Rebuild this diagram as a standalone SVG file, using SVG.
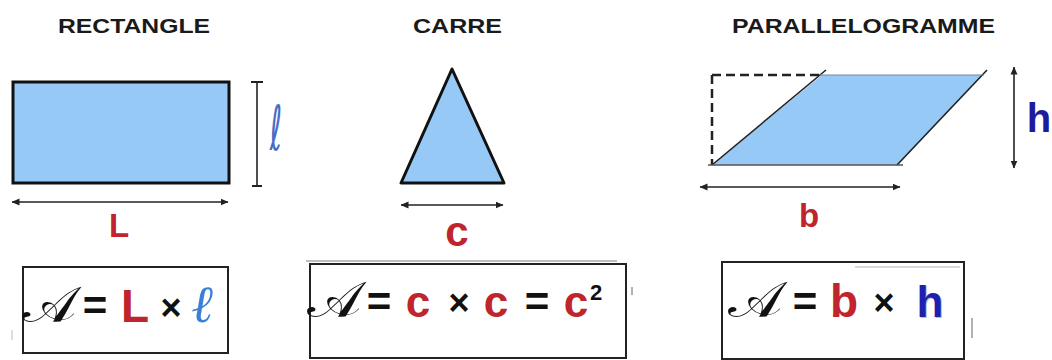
<svg xmlns="http://www.w3.org/2000/svg" width="1052" height="360" viewBox="0 0 1052 360">
<style>
.title{font-family:"Liberation Sans",Arial,sans-serif;font-weight:bold;font-size:21px;fill:#1a1a1a;text-anchor:middle}
.lbl{font-family:"Liberation Sans",Arial,sans-serif;font-weight:bold;text-anchor:middle}
.red{fill:#c0242c}
.blk{fill:#111}
.scr{font-family:"DejaVu Serif","Liberation Serif",serif;font-size:50px;fill:#111;text-anchor:middle}
.dim{stroke:#222;stroke-width:1.6;fill:none}
.box{fill:#fff;stroke:#222;stroke-width:2}
</style>
<defs>
<marker id="ah" viewBox="0 0 8 8" refX="7.5" refY="4" markerWidth="8" markerHeight="8" markerUnits="userSpaceOnUse" orient="auto-start-reverse">
<path d="M0,0.5 L8,4 L0,7.5 z" fill="#222"/>
</marker>
</defs>
<rect width="1052" height="360" fill="#fff"/>

<g id="rectangle">
<text class="title" x="134" y="33" textLength="152" lengthAdjust="spacingAndGlyphs">RECTANGLE</text>
<rect x="13" y="82" width="216" height="101" fill="#97c9f7" stroke="#111" stroke-width="3"/>
<text class="lbl red" x="119" y="237" font-size="33">L</text>
<text x="0" y="0" font-family="DejaVu Sans,sans-serif" font-size="40" fill="#4a6cc4" text-anchor="middle" transform="translate(276,150) scale(0.75,1.55)">ℓ</text>
</g>

<g id="carre">
<text class="title" x="457.5" y="33" textLength="89" lengthAdjust="spacingAndGlyphs">CARRE</text>
<polygon points="452,69 401,183 504,183" fill="#97c9f7" stroke="#111" stroke-width="3" stroke-linejoin="round"/>
<text class="lbl red" x="457" y="246" font-size="42">c</text>
</g>

<g id="parallelogramme">
<text class="title" x="863.5" y="33" textLength="263" lengthAdjust="spacingAndGlyphs">PARALLELOGRAMME</text>
<polygon points="712,165 822,75 983,75 898,165" fill="#97c9f7"/>
<path d="M712,75 H820 M712,75 V165" fill="none" stroke="#222" stroke-width="2.5" stroke-dasharray="9 5"/>
<line x1="712" y1="165" x2="826" y2="70" stroke="#222" stroke-width="1.6"/>
<line x1="987" y1="70" x2="897" y2="165" stroke="#222" stroke-width="1.6"/>
<line x1="820" y1="75" x2="984" y2="75" stroke="#6b8aa8" stroke-width="1.2"/>
<line x1="708" y1="165" x2="903" y2="165" stroke="#555" stroke-width="1.5"/>
<text class="lbl red" x="809" y="227" font-size="33">b</text>
<text class="lbl" x="1039" y="132" font-size="40" fill="#1c1c9c">h</text>
</g>

<g id="connectors">
<line class="dim" x1="12" y1="202" x2="228" y2="202" marker-start="url(#ah)" marker-end="url(#ah)"/>
<line class="dim" x1="257" y1="82" x2="257" y2="186"/>
<path d="M251,82 H263 M252,186 H262" stroke="#222" stroke-width="2"/>
<line class="dim" x1="401" y1="205" x2="503" y2="205" marker-start="url(#ah)" marker-end="url(#ah)"/>
<line class="dim" x1="700" y1="187" x2="900" y2="187" marker-start="url(#ah)" marker-end="url(#ah)"/>
<line class="dim" x1="1014" y1="67" x2="1014" y2="168" marker-start="url(#ah)" marker-end="url(#ah)"/>
</g>

<g id="formule-rectangle">
<rect class="box" x="23" y="267" width="205" height="86"/>
<text class="scr" x="0" y="0" transform="translate(49,322) scale(1.15,1)">𝒜</text>
<text class="lbl blk" x="95" y="320" font-size="42">=</text>
<text class="lbl red" x="135" y="322" font-size="46">L</text>
<text class="lbl blk" x="171" y="320" font-size="36">×</text>
<text x="202" y="322" font-family="DejaVu Serif,serif" font-style="italic" font-size="52" fill="#3a80d6" text-anchor="middle">ℓ</text>
<line x1="12" y1="330" x2="12" y2="340" stroke="#bbb" stroke-width="1"/>
</g>

<g id="formule-carre">
<line x1="306" y1="261" x2="617" y2="261" stroke="#aaa" stroke-width="1.5"/>
<rect class="box" x="310" y="264" width="316" height="94"/>
<text class="scr" x="0" y="0" transform="translate(334,317) scale(1.15,1)">𝒜</text>
<text class="lbl blk" x="379" y="316" font-size="42">=</text>
<text class="lbl red" x="418" y="317" font-size="44">c</text>
<text class="lbl blk" x="459" y="315" font-size="36">×</text>
<text class="lbl red" x="496" y="317" font-size="44">c</text>
<text class="lbl blk" x="537" y="316" font-size="42">=</text>
<text class="lbl red" x="576" y="317" font-size="44">c</text>
<text class="lbl blk" x="596" y="300" font-size="22">2</text>
<line x1="632" y1="287" x2="632" y2="295" stroke="#999" stroke-width="1.5"/>
</g>

<g id="formule-parallelogramme">
<rect class="box" x="722" y="262" width="242" height="97"/>
<line x1="855" y1="267" x2="960" y2="267" stroke="#ccc" stroke-width="1.5"/>
<text class="scr" x="0" y="0" transform="translate(755,317) scale(1.15,1)">𝒜</text>
<text class="lbl blk" x="805" y="316" font-size="42">=</text>
<text class="lbl red" x="844" y="317" font-size="46">b</text>
<text class="lbl blk" x="884" y="315" font-size="36">×</text>
<text class="lbl" x="931" y="318" font-size="44" fill="#8c8cd0" opacity="0.6">h</text>
<text class="lbl" x="930" y="317" font-size="44" fill="#2020b0">h</text>
<line x1="972" y1="318" x2="972" y2="338" stroke="#999" stroke-width="1.5"/>
</g>
</svg>
